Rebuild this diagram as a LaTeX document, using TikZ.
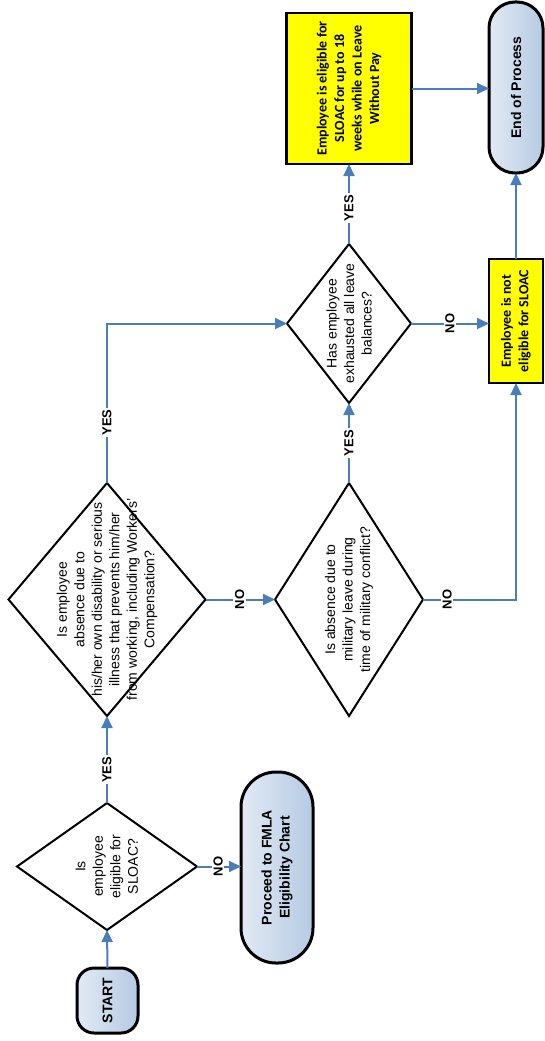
\documentclass[tikz,border=0pt]{standalone}
\usepackage{fontspec}
\setmainfont{Liberation Sans}
\newfontfamily\calib{Carlito}
\usetikzlibrary{shapes.geometric,arrows.meta}
\definecolor{lnblue}{HTML}{4A7EBB}
\definecolor{tlight}{HTML}{E2EAF4}
\definecolor{tdark}{HTML}{B5CAE3}
\definecolor{ybox}{HTML}{FFFF00}
\begin{document}
\begin{tikzpicture}[x=1pt,y=-1pt,
  conn/.style={draw=lnblue, line width=2pt, -{Triangle[length=12pt,width=11pt]}},
  decision/.style={diamond, draw=black, line width=2pt, inner sep=0pt, outer sep=0pt, fill=white},
  dtext/.style={rotate=90, align=center, inner sep=0pt, font=\fontsize{14}{17.5}\selectfont},
  term/.style={rectangle, draw=black, line width=3pt, inner sep=0pt, outer sep=0pt, left color=tlight, right color=tdark},
  ttext/.style={rotate=90, align=center, inner sep=0pt, font=\bfseries\fontsize{14}{18}\selectfont},
  ybx/.style={rectangle, draw=black, line width=2.2pt, fill=ybox, inner sep=0pt, outer sep=0pt},
  ytext/.style={rotate=90, align=center, inner sep=0pt, font=\calib\bfseries\fontsize{14}{17.5}\selectfont},
  lbl/.style={fill=white, rotate=90, inner sep=1.5pt, font=\bfseries\fontsize{13}{15}\selectfont}]
\useasboundingbox (0,0) rectangle (545,1041);

% shapes
\node[term, minimum width=61pt, minimum height=65pt, rounded corners=17pt] (start) at (107.5,1000.5) {};
\node[ttext] (startt) at (start) {START};

\node[decision, minimum width=180pt, minimum height=127pt] (d1) at (107,866.5) {};
\node[dtext] (d1t) at (d1) {Is\\employee\\eligible for\\SLOAC?};

\node[term, minimum width=72pt, minimum height=191pt, rounded corners=35pt] (proc) at (277,867.5) {};
\node[ttext] (proct) at (proc) {Proceed to FMLA\\Eligibility Chart};

\node[decision, minimum width=197pt, minimum height=233pt] (d2) at (107,599.5) {};
\node[dtext] (d2t) at (d2) {Is employee\\absence due to\\his/her own disability or serious\\illness that prevents him/her\\from working, including Workers'\\Compensation?};

\node[decision, minimum width=148pt, minimum height=233pt] (d3) at (349,599.5) {};
\node[dtext] (d3t) at (d3) {Is absence due to\\military leave during\\time of military conflict?};

\node[decision, minimum width=124pt, minimum height=159pt] (d4) at (349,323.5) {};
\node[dtext] (d4t) at (d4) {Has employee\\exhausted all leave\\balances?};

\node[ybx, minimum width=125pt, minimum height=151pt] (elig) at (349,88.5) {};
\node[ytext] (eligt) at (elig) {Employee is eligible for\\SLOAC for up to 18\\weeks while on Leave\\Without Pay};

\node[ybx, minimum width=54pt, minimum height=124pt] (notel) at (516,321) {};
\node[ytext] (notelt) at (notel) {Employee is not\\eligible for SLOAC};

\node[term, minimum width=54pt, minimum height=171pt, rounded corners=26pt] (endp) at (516,87.5) {};
\node[ttext] (endpt) at (endp) {End of Process};

% connectors
\draw[conn] (start.north) -- (d1.south);
\draw[conn] (d1.east) -- node[lbl,pos=0.48]{NO} (d1.east -| proc.west);
\draw[conn] (d1.north) -- node[lbl,pos=0.38]{YES} (d2.south);
\draw[conn] (d2.east) -- node[lbl,pos=0.49]{NO} (d3.west);
\draw[conn] (d2.north) |- node[lbl,pos=0.19]{YES} (d4.west);
\draw[conn] (d3.north) -- node[lbl,pos=0.5]{YES} (d4.south);
\draw[conn] (d3.east) -| node[lbl,pos=0.13]{NO} (notel.south);
\draw[conn] (d4.east) -- node[lbl,pos=0.5]{NO} (d4.east -| notel.west);
\draw[conn] (d4.north) -- node[lbl,pos=0.45]{YES} (elig.south);
\draw[conn] (elig.east) -- (elig.east -| endp.west);
\draw[conn] (notel.north) -- (endp.south);
\end{tikzpicture}
\end{document}
